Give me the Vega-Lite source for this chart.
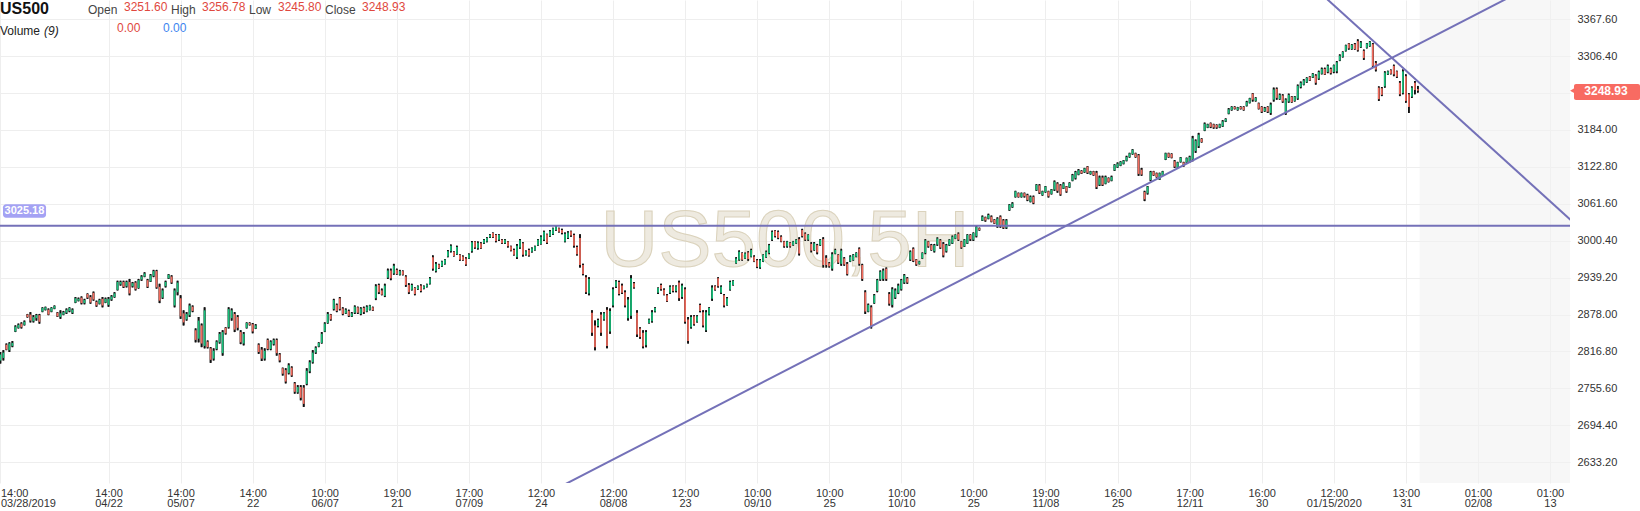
{
"$schema": "https://vega.github.io/schema/vega-lite/v6.json",
"width": 1570,
"height": 483,
"autosize": {"type": "none"},
"padding": {"left": 0, "top": 0, "right": 70, "bottom": 28},
"background": "#ffffff",
"config": {"view": {"stroke": null}, "font": "Liberation Sans"},
"datasets": {
"candles": [
{"i":0,"o":2802,"h":2816,"l":2797,"c":2812},{"i":1,"o":2806,"h":2819,"l":2802,"c":2815},{"i":2,"o":2828,"h":2830,"l":2819,"c":2820},{"i":3,"o":2819,"h":2832,"l":2816,"c":2830},{"i":4,"o":2826,"h":2834,"l":2824,"c":2831},{"i":5,"o":2850,"h":2860,"l":2849,"c":2858},{"i":6,"o":2856,"h":2863,"l":2855,"c":2861},{"i":7,"o":2863,"h":2865,"l":2855,"c":2857},{"i":8,"o":2861,"h":2868,"l":2860,"c":2866},{"i":9,"o":2878,"h":2879,"l":2873,"c":2874},
{"i":10,"o":2878,"h":2882,"l":2865,"c":2868},{"i":11,"o":2867,"h":2877,"l":2865,"c":2874},{"i":12,"o":2872,"h":2879,"l":2868,"c":2877},{"i":13,"o":2877,"h":2879,"l":2863,"c":2866},{"i":14,"o":2883,"h":2890,"l":2882,"c":2889},{"i":15,"o":2886,"h":2891,"l":2885,"c":2890},{"i":16,"o":2886,"h":2888,"l":2877,"c":2878},{"i":17,"o":2883,"h":2890,"l":2882,"c":2889},{"i":18,"o":2888,"h":2893,"l":2887,"c":2892},{"i":19,"o":2881,"h":2882,"l":2874,"c":2875},
{"i":20,"o":2874,"h":2885,"l":2871,"c":2880},{"i":21,"o":2878,"h":2884,"l":2877,"c":2882},{"i":22,"o":2881,"h":2888,"l":2879,"c":2886},{"i":23,"o":2884,"h":2890,"l":2882,"c":2889},{"i":24,"o":2881,"h":2888,"l":2879,"c":2886},{"i":25,"o":2898,"h":2907,"l":2897,"c":2905},{"i":26,"o":2901,"h":2906,"l":2900,"c":2904},{"i":27,"o":2906,"h":2908,"l":2895,"c":2897},{"i":28,"o":2897,"h":2904,"l":2895,"c":2902},{"i":29,"o":2912,"h":2913,"l":2904,"c":2906},
{"i":30,"o":2907,"h":2910,"l":2896,"c":2898},{"i":31,"o":2914,"h":2916,"l":2901,"c":2903},{"i":32,"o":2899,"h":2901,"l":2891,"c":2893},{"i":33,"o":2896,"h":2904,"l":2895,"c":2902},{"i":34,"o":2904,"h":2907,"l":2890,"c":2893},{"i":35,"o":2898,"h":2906,"l":2897,"c":2904},{"i":36,"o":2894,"h":2907,"l":2891,"c":2904},{"i":37,"o":2903,"h":2910,"l":2901,"c":2908},{"i":38,"o":2907,"h":2915,"l":2906,"c":2913},{"i":39,"o":2919,"h":2934,"l":2918,"c":2932},
{"i":40,"o":2928,"h":2934,"l":2926,"c":2932},{"i":41,"o":2932,"h":2934,"l":2922,"c":2924},{"i":42,"o":2925,"h":2934,"l":2923,"c":2932},{"i":43,"o":2932,"h":2937,"l":2910,"c":2913},{"i":44,"o":2925,"h":2932,"l":2923,"c":2930},{"i":45,"o":2931,"h":2933,"l":2918,"c":2920},{"i":46,"o":2922,"h":2937,"l":2921,"c":2935},{"i":47,"o":2936,"h":2943,"l":2934,"c":2941},{"i":48,"o":2941,"h":2948,"l":2940,"c":2946},{"i":49,"o":2935,"h":2937,"l":2922,"c":2924},
{"i":50,"o":2933,"h":2945,"l":2932,"c":2943},{"i":51,"o":2942,"h":2952,"l":2940,"c":2950},{"i":52,"o":2950,"h":2952,"l":2921,"c":2923},{"i":53,"o":2924,"h":2929,"l":2897,"c":2901},{"i":54,"o":2906,"h":2921,"l":2904,"c":2918},{"i":55,"o":2925,"h":2934,"l":2923,"c":2932},{"i":56,"o":2938,"h":2945,"l":2937,"c":2944},{"i":57,"o":2941,"h":2943,"l":2929,"c":2931},{"i":58,"o":2893,"h":2921,"l":2890,"c":2918},{"i":59,"o":2915,"h":2934,"l":2910,"c":2931},
{"i":60,"o":2905,"h":2910,"l":2871,"c":2875},{"i":61,"o":2880,"h":2885,"l":2860,"c":2865},{"i":62,"o":2870,"h":2882,"l":2868,"c":2879},{"i":63,"o":2877,"h":2896,"l":2874,"c":2893},{"i":64,"o":2891,"h":2893,"l":2882,"c":2884},{"i":65,"o":2852,"h":2855,"l":2832,"c":2836},{"i":66,"o":2838,"h":2874,"l":2832,"c":2868},{"i":67,"o":2860,"h":2863,"l":2824,"c":2830},{"i":68,"o":2826,"h":2890,"l":2822,"c":2885},{"i":69,"o":2833,"h":2835,"l":2822,"c":2824},
{"i":70,"o":2822,"h":2824,"l":2798,"c":2803},{"i":71,"o":2805,"h":2822,"l":2802,"c":2818},{"i":72,"o":2821,"h":2835,"l":2819,"c":2833},{"i":73,"o":2832,"h":2849,"l":2830,"c":2846},{"i":74,"o":2814,"h":2852,"l":2810,"c":2849},{"i":75,"o":2856,"h":2857,"l":2845,"c":2847},{"i":76,"o":2857,"h":2890,"l":2855,"c":2887},{"i":77,"o":2872,"h":2888,"l":2868,"c":2885},{"i":78,"o":2879,"h":2882,"l":2849,"c":2853},{"i":79,"o":2874,"h":2877,"l":2852,"c":2856},
{"i":80,"o":2849,"h":2852,"l":2829,"c":2832},{"i":81,"o":2830,"h":2849,"l":2827,"c":2846},{"i":82,"o":2856,"h":2865,"l":2855,"c":2864},{"i":83,"o":2864,"h":2865,"l":2860,"c":2861},{"i":84,"o":2862,"h":2864,"l":2847,"c":2850},{"i":85,"o":2855,"h":2862,"l":2854,"c":2860},{"i":86,"o":2828,"h":2830,"l":2813,"c":2816},{"i":87,"o":2820,"h":2824,"l":2801,"c":2805},{"i":88,"o":2805,"h":2822,"l":2802,"c":2818},{"i":89,"o":2836,"h":2838,"l":2819,"c":2821},
{"i":90,"o":2821,"h":2835,"l":2819,"c":2833},{"i":91,"o":2829,"h":2838,"l":2827,"c":2836},{"i":92,"o":2836,"h":2838,"l":2810,"c":2814},{"i":93,"o":2812,"h":2814,"l":2799,"c":2802},{"i":94,"o":2789,"h":2790,"l":2777,"c":2780},{"i":95,"o":2786,"h":2789,"l":2764,"c":2767},{"i":96,"o":2781,"h":2797,"l":2779,"c":2794},{"i":97,"o":2790,"h":2792,"l":2775,"c":2777},{"i":98,"o":2764,"h":2766,"l":2747,"c":2750},{"i":99,"o":2749,"h":2761,"l":2747,"c":2758},
{"i":100,"o":2758,"h":2761,"l":2736,"c":2740},{"i":101,"o":2757,"h":2761,"l":2725,"c":2730},{"i":102,"o":2763,"h":2789,"l":2761,"c":2785},{"i":103,"o":2784,"h":2802,"l":2781,"c":2799},{"i":104,"o":2799,"h":2819,"l":2797,"c":2815},{"i":105,"o":2815,"h":2825,"l":2813,"c":2823},{"i":106,"o":2825,"h":2832,"l":2824,"c":2831},{"i":107,"o":2831,"h":2849,"l":2830,"c":2846},{"i":108,"o":2850,"h":2865,"l":2849,"c":2863},{"i":109,"o":2864,"h":2882,"l":2863,"c":2879},
{"i":110,"o":2878,"h":2879,"l":2868,"c":2870},{"i":111,"o":2887,"h":2904,"l":2885,"c":2902},{"i":112,"o":2894,"h":2896,"l":2882,"c":2884},{"i":113,"o":2905,"h":2907,"l":2885,"c":2887},{"i":114,"o":2888,"h":2890,"l":2877,"c":2879},{"i":115,"o":2880,"h":2888,"l":2879,"c":2886},{"i":116,"o":2884,"h":2886,"l":2874,"c":2876},{"i":117,"o":2875,"h":2882,"l":2874,"c":2880},{"i":118,"o":2881,"h":2893,"l":2879,"c":2891},{"i":119,"o":2890,"h":2891,"l":2879,"c":2881},
{"i":120,"o":2879,"h":2890,"l":2877,"c":2888},{"i":121,"o":2889,"h":2891,"l":2879,"c":2882},{"i":122,"o":2883,"h":2893,"l":2882,"c":2891},{"i":123,"o":2886,"h":2894,"l":2885,"c":2893},{"i":124,"o":2890,"h":2891,"l":2884,"c":2885},{"i":125,"o":2905,"h":2928,"l":2902,"c":2925},{"i":126,"o":2927,"h":2929,"l":2912,"c":2915},{"i":127,"o":2918,"h":2921,"l":2910,"c":2911},{"i":128,"o":2909,"h":2929,"l":2907,"c":2926},{"i":129,"o":2939,"h":2954,"l":2937,"c":2951},
{"i":130,"o":2951,"h":2954,"l":2935,"c":2938},{"i":131,"o":2946,"h":2962,"l":2944,"c":2959},{"i":132,"o":2952,"h":2954,"l":2944,"c":2945},{"i":133,"o":2944,"h":2952,"l":2943,"c":2950},{"i":134,"o":2950,"h":2951,"l":2943,"c":2944},{"i":135,"o":2941,"h":2943,"l":2924,"c":2927},{"i":136,"o":2927,"h":2930,"l":2912,"c":2915},{"i":137,"o":2919,"h":2929,"l":2918,"c":2927},{"i":138,"o":2922,"h":2923,"l":2910,"c":2912},{"i":139,"o":2920,"h":2926,"l":2919,"c":2925},
{"i":140,"o":2926,"h":2928,"l":2915,"c":2917},{"i":141,"o":2921,"h":2926,"l":2920,"c":2925},{"i":142,"o":2924,"h":2929,"l":2923,"c":2928},{"i":143,"o":2929,"h":2940,"l":2928,"c":2938},{"i":144,"o":2973,"h":2976,"l":2951,"c":2954},{"i":145,"o":2950,"h":2965,"l":2948,"c":2962},{"i":146,"o":2961,"h":2962,"l":2954,"c":2955},{"i":147,"o":2958,"h":2967,"l":2957,"c":2966},{"i":148,"o":2962,"h":2970,"l":2961,"c":2969},{"i":149,"o":2974,"h":2985,"l":2973,"c":2983},
{"i":150,"o":2983,"h":2994,"l":2981,"c":2992},{"i":151,"o":2982,"h":2983,"l":2974,"c":2975},{"i":152,"o":2978,"h":2992,"l":2977,"c":2990},{"i":153,"o":2977,"h":2978,"l":2967,"c":2969},{"i":154,"o":2974,"h":2976,"l":2967,"c":2968},{"i":155,"o":2971,"h":2973,"l":2959,"c":2961},{"i":156,"o":2971,"h":2979,"l":2970,"c":2978},{"i":157,"o":2983,"h":3000,"l":2981,"c":2998},{"i":158,"o":2999,"h":3000,"l":2987,"c":2989},{"i":159,"o":2988,"h":2999,"l":2986,"c":2997},
{"i":160,"o":2996,"h":2998,"l":2987,"c":2988},{"i":161,"o":2996,"h":3003,"l":2995,"c":3002},{"i":162,"o":2999,"h":3006,"l":2998,"c":3005},{"i":163,"o":3006,"h":3011,"l":3005,"c":3010},{"i":164,"o":3013,"h":3014,"l":3005,"c":3006},{"i":165,"o":3010,"h":3011,"l":2998,"c":3000},{"i":166,"o":3002,"h":3011,"l":3000,"c":3010},{"i":167,"o":3002,"h":3003,"l":2995,"c":2996},{"i":168,"o":2996,"h":3003,"l":2995,"c":3002},{"i":169,"o":2999,"h":3000,"l":2989,"c":2991},
{"i":170,"o":2991,"h":2992,"l":2983,"c":2984},{"i":171,"o":2985,"h":2987,"l":2976,"c":2977},{"i":172,"o":2973,"h":2995,"l":2970,"c":2992},{"i":173,"o":2989,"h":3003,"l":2987,"c":3001},{"i":174,"o":2996,"h":2998,"l":2974,"c":2977},{"i":175,"o":2977,"h":2984,"l":2976,"c":2983},{"i":176,"o":2985,"h":2987,"l":2974,"c":2976},{"i":177,"o":2982,"h":2989,"l":2981,"c":2988},{"i":178,"o":2985,"h":2992,"l":2984,"c":2991},{"i":179,"o":2993,"h":3003,"l":2992,"c":3002},
{"i":180,"o":2995,"h":3009,"l":2994,"c":3007},{"i":181,"o":3002,"h":3017,"l":3000,"c":3015},{"i":182,"o":3011,"h":3012,"l":2995,"c":2997},{"i":183,"o":3008,"h":3018,"l":3007,"c":3016},{"i":184,"o":3011,"h":3022,"l":3010,"c":3021},{"i":185,"o":3018,"h":3025,"l":3017,"c":3024},{"i":186,"o":3021,"h":3022,"l":3014,"c":3015},{"i":187,"o":3018,"h":3020,"l":3011,"c":3013},{"i":188,"o":2999,"h":3014,"l":2998,"c":3012},{"i":189,"o":3005,"h":3016,"l":3003,"c":3014},
{"i":190,"o":3016,"h":3017,"l":3007,"c":3009},{"i":191,"o":3010,"h":3012,"l":2989,"c":2992},{"i":192,"o":2990,"h":2992,"l":2976,"c":2978},{"i":193,"o":3005,"h":3011,"l":2956,"c":2960},{"i":194,"o":2960,"h":2962,"l":2943,"c":2945},{"i":195,"o":2940,"h":2943,"l":2912,"c":2915},{"i":196,"o":2913,"h":2940,"l":2910,"c":2937},{"i":197,"o":2881,"h":2885,"l":2843,"c":2848},{"i":198,"o":2860,"h":2868,"l":2819,"c":2824},{"i":199,"o":2859,"h":2871,"l":2857,"c":2869},
{"i":200,"o":2878,"h":2882,"l":2843,"c":2848},{"i":201,"o":2870,"h":2882,"l":2868,"c":2880},{"i":202,"o":2886,"h":2890,"l":2822,"c":2826},{"i":203,"o":2850,"h":2888,"l":2846,"c":2884},{"i":204,"o":2893,"h":2923,"l":2890,"c":2920},{"i":205,"o":2924,"h":2935,"l":2922,"c":2933},{"i":206,"o":2932,"h":2934,"l":2910,"c":2912},{"i":207,"o":2926,"h":2929,"l":2912,"c":2914},{"i":208,"o":2915,"h":2918,"l":2890,"c":2893},{"i":209,"o":2872,"h":2907,"l":2868,"c":2903},
{"i":210,"o":2876,"h":2943,"l":2871,"c":2938},{"i":211,"o":2930,"h":2932,"l":2921,"c":2923},{"i":212,"o":2881,"h":2885,"l":2841,"c":2845},{"i":213,"o":2855,"h":2857,"l":2838,"c":2841},{"i":214,"o":2848,"h":2852,"l":2822,"c":2825},{"i":215,"o":2827,"h":2852,"l":2824,"c":2849},{"i":216,"o":2864,"h":2871,"l":2863,"c":2870},{"i":217,"o":2867,"h":2885,"l":2865,"c":2882},{"i":218,"o":2883,"h":2890,"l":2882,"c":2889},{"i":219,"o":2914,"h":2923,"l":2912,"c":2922},
{"i":220,"o":2927,"h":2929,"l":2918,"c":2920},{"i":221,"o":2919,"h":2921,"l":2910,"c":2911},{"i":222,"o":2910,"h":2912,"l":2899,"c":2900},{"i":223,"o":2914,"h":2926,"l":2912,"c":2924},{"i":224,"o":2925,"h":2926,"l":2915,"c":2917},{"i":225,"o":2917,"h":2926,"l":2915,"c":2925},{"i":226,"o":2931,"h":2934,"l":2901,"c":2905},{"i":227,"o":2907,"h":2929,"l":2904,"c":2926},{"i":228,"o":2920,"h":2923,"l":2863,"c":2866},{"i":229,"o":2870,"h":2874,"l":2830,"c":2834},
{"i":230,"o":2857,"h":2877,"l":2855,"c":2874},{"i":231,"o":2875,"h":2877,"l":2860,"c":2862},{"i":232,"o":2866,"h":2877,"l":2865,"c":2875},{"i":233,"o":2894,"h":2896,"l":2882,"c":2884},{"i":234,"o":2882,"h":2885,"l":2857,"c":2860},{"i":235,"o":2852,"h":2885,"l":2849,"c":2882},{"i":236,"o":2878,"h":2890,"l":2877,"c":2889},{"i":237,"o":2904,"h":2926,"l":2901,"c":2923},{"i":238,"o":2925,"h":2926,"l":2918,"c":2919},{"i":239,"o":2938,"h":2940,"l":2923,"c":2925},
{"i":240,"o":2914,"h":2926,"l":2912,"c":2924},{"i":241,"o":2910,"h":2912,"l":2890,"c":2893},{"i":242,"o":2894,"h":2907,"l":2893,"c":2905},{"i":243,"o":2919,"h":2934,"l":2918,"c":2932},{"i":244,"o":2927,"h":2935,"l":2926,"c":2934},{"i":245,"o":2963,"h":2973,"l":2962,"c":2971},{"i":246,"o":2969,"h":2984,"l":2967,"c":2982},{"i":247,"o":2980,"h":2981,"l":2967,"c":2969},{"i":248,"o":2971,"h":2981,"l":2970,"c":2979},{"i":249,"o":2981,"h":2983,"l":2967,"c":2970},
{"i":250,"o":2974,"h":2987,"l":2973,"c":2985},{"i":251,"o":2974,"h":2976,"l":2965,"c":2966},{"i":252,"o":2968,"h":2970,"l":2955,"c":2957},{"i":253,"o":2956,"h":2970,"l":2954,"c":2968},{"i":254,"o":2966,"h":2978,"l":2965,"c":2977},{"i":255,"o":2973,"h":2984,"l":2972,"c":2982},{"i":256,"o":2980,"h":2995,"l":2978,"c":2993},{"i":257,"o":3002,"h":3017,"l":3000,"c":3015},{"i":258,"o":3017,"h":3018,"l":3006,"c":3008},{"i":259,"o":3015,"h":3017,"l":3003,"c":3005},
{"i":260,"o":3007,"h":3009,"l":2998,"c":2999},{"i":261,"o":2999,"h":3000,"l":2989,"c":2991},{"i":262,"o":2991,"h":3000,"l":2989,"c":2999},{"i":263,"o":2997,"h":2998,"l":2989,"c":2991},{"i":264,"o":2993,"h":3000,"l":2992,"c":2999},{"i":265,"o":2996,"h":3003,"l":2995,"c":3002},{"i":266,"o":3003,"h":3006,"l":2976,"c":2979},{"i":267,"o":3018,"h":3020,"l":3006,"c":3008},{"i":268,"o":3012,"h":3014,"l":3000,"c":3002},{"i":269,"o":3002,"h":3011,"l":3000,"c":3010},
{"i":270,"o":2995,"h":2998,"l":2981,"c":2984},{"i":271,"o":2985,"h":2998,"l":2984,"c":2996},{"i":272,"o":2993,"h":2995,"l":2978,"c":2981},{"i":273,"o":2993,"h":3003,"l":2992,"c":3002},{"i":274,"o":3003,"h":3006,"l":2956,"c":2960},{"i":275,"o":2972,"h":2976,"l":2956,"c":2960},{"i":276,"o":2963,"h":2965,"l":2956,"c":2958},{"i":277,"o":2954,"h":2981,"l":2951,"c":2978},{"i":278,"o":2979,"h":2987,"l":2978,"c":2985},{"i":279,"o":2977,"h":2978,"l":2962,"c":2964},
{"i":280,"o":2962,"h":2987,"l":2959,"c":2984},{"i":281,"o":2971,"h":2973,"l":2959,"c":2961},{"i":282,"o":2962,"h":2965,"l":2943,"c":2945},{"i":283,"o":2966,"h":2976,"l":2965,"c":2974},{"i":284,"o":2968,"h":2978,"l":2967,"c":2977},{"i":285,"o":2974,"h":2981,"l":2973,"c":2980},{"i":286,"o":2987,"h":2989,"l":2959,"c":2962},{"i":287,"o":2960,"h":2962,"l":2934,"c":2937},{"i":288,"o":2915,"h":2918,"l":2879,"c":2883},{"i":289,"o":2883,"h":2896,"l":2882,"c":2894},
{"i":290,"o":2890,"h":2893,"l":2855,"c":2858},{"i":291,"o":2897,"h":2912,"l":2896,"c":2910},{"i":292,"o":2917,"h":2937,"l":2915,"c":2935},{"i":293,"o":2936,"h":2951,"l":2934,"c":2949},{"i":294,"o":2937,"h":2954,"l":2934,"c":2951},{"i":295,"o":2954,"h":2956,"l":2934,"c":2937},{"i":296,"o":2912,"h":2915,"l":2893,"c":2896},{"i":297,"o":2894,"h":2923,"l":2890,"c":2920},{"i":298,"o":2906,"h":2921,"l":2904,"c":2918},{"i":299,"o":2914,"h":2929,"l":2912,"c":2926},
{"i":300,"o":2920,"h":2937,"l":2918,"c":2935},{"i":301,"o":2931,"h":2945,"l":2929,"c":2943},{"i":302,"o":2938,"h":2940,"l":2929,"c":2931},{"i":303,"o":2969,"h":2984,"l":2967,"c":2982},{"i":304,"o":2987,"h":2989,"l":2965,"c":2967},{"i":305,"o":2969,"h":2970,"l":2959,"c":2961},{"i":306,"o":2962,"h":2967,"l":2961,"c":2966},{"i":307,"o":2971,"h":2981,"l":2970,"c":2980},{"i":308,"o":2980,"h":3003,"l":2978,"c":3001},{"i":309,"o":2999,"h":3000,"l":2989,"c":2991},
{"i":310,"o":2993,"h":2995,"l":2984,"c":2985},{"i":311,"o":2983,"h":2995,"l":2981,"c":2993},{"i":312,"o":2994,"h":3006,"l":2992,"c":3004},{"i":313,"o":3001,"h":3003,"l":2987,"c":2989},{"i":314,"o":2995,"h":2998,"l":2973,"c":2976},{"i":315,"o":2983,"h":2995,"l":2981,"c":2993},{"i":316,"o":2993,"h":3003,"l":2992,"c":3002},{"i":317,"o":2996,"h":3009,"l":2995,"c":3007},{"i":318,"o":3004,"h":3011,"l":3003,"c":3010},{"i":319,"o":3012,"h":3014,"l":3000,"c":3002},
{"i":320,"o":2999,"h":3000,"l":2987,"c":2989},{"i":321,"o":2991,"h":3003,"l":2990,"c":3002},{"i":322,"o":2996,"h":3011,"l":2995,"c":3010},{"i":323,"o":3010,"h":3011,"l":3000,"c":3003},{"i":324,"o":3002,"h":3014,"l":3000,"c":3013},{"i":325,"o":3008,"h":3025,"l":3006,"c":3023},{"i":326,"o":3021,"h":3022,"l":3017,"c":3018},{"i":327,"o":3034,"h":3042,"l":3033,"c":3040},{"i":328,"o":3039,"h":3040,"l":3032,"c":3034},{"i":329,"o":3037,"h":3045,"l":3036,"c":3043},
{"i":330,"o":3040,"h":3042,"l":3031,"c":3032},{"i":331,"o":3035,"h":3036,"l":3028,"c":3029},{"i":332,"o":3024,"h":3039,"l":3022,"c":3037},{"i":333,"o":3040,"h":3042,"l":3022,"c":3025},{"i":334,"o":3034,"h":3036,"l":3020,"c":3022},{"i":335,"o":3022,"h":3036,"l":3020,"c":3034},{"i":336,"o":3051,"h":3061,"l":3050,"c":3060},{"i":337,"o":3056,"h":3064,"l":3055,"c":3062},{"i":338,"o":3073,"h":3083,"l":3072,"c":3082},{"i":339,"o":3079,"h":3080,"l":3072,"c":3073},
{"i":340,"o":3073,"h":3080,"l":3072,"c":3079},{"i":341,"o":3079,"h":3080,"l":3072,"c":3074},{"i":342,"o":3076,"h":3078,"l":3066,"c":3068},{"i":343,"o":3065,"h":3075,"l":3064,"c":3073},{"i":344,"o":3073,"h":3075,"l":3061,"c":3063},{"i":345,"o":3084,"h":3094,"l":3083,"c":3093},{"i":346,"o":3092,"h":3094,"l":3078,"c":3080},{"i":347,"o":3076,"h":3083,"l":3075,"c":3082},{"i":348,"o":3081,"h":3091,"l":3080,"c":3090},{"i":349,"o":3082,"h":3083,"l":3072,"c":3074},
{"i":350,"o":3078,"h":3086,"l":3077,"c":3085},{"i":351,"o":3085,"h":3100,"l":3083,"c":3098},{"i":352,"o":3095,"h":3097,"l":3080,"c":3083},{"i":353,"o":3092,"h":3094,"l":3075,"c":3077},{"i":354,"o":3087,"h":3097,"l":3086,"c":3095},{"i":355,"o":3090,"h":3091,"l":3080,"c":3082},{"i":356,"o":3089,"h":3097,"l":3088,"c":3096},{"i":357,"o":3100,"h":3111,"l":3099,"c":3109},{"i":358,"o":3104,"h":3116,"l":3102,"c":3114},{"i":359,"o":3110,"h":3119,"l":3109,"c":3117},
{"i":360,"o":3116,"h":3117,"l":3111,"c":3112},{"i":361,"o":3114,"h":3121,"l":3113,"c":3120},{"i":362,"o":3123,"h":3124,"l":3111,"c":3113},{"i":363,"o":3111,"h":3116,"l":3110,"c":3115},{"i":364,"o":3115,"h":3116,"l":3108,"c":3109},{"i":365,"o":3113,"h":3116,"l":3086,"c":3089},{"i":366,"o":3093,"h":3108,"l":3091,"c":3105},{"i":367,"o":3105,"h":3108,"l":3091,"c":3093},{"i":368,"o":3095,"h":3108,"l":3094,"c":3106},{"i":369,"o":3104,"h":3105,"l":3097,"c":3098},
{"i":370,"o":3100,"h":3108,"l":3099,"c":3106},{"i":371,"o":3117,"h":3127,"l":3116,"c":3126},{"i":372,"o":3122,"h":3130,"l":3121,"c":3128},{"i":373,"o":3125,"h":3132,"l":3124,"c":3131},{"i":374,"o":3128,"h":3134,"l":3127,"c":3133},{"i":375,"o":3133,"h":3141,"l":3132,"c":3139},{"i":376,"o":3139,"h":3146,"l":3138,"c":3145},{"i":377,"o":3144,"h":3152,"l":3143,"c":3151},{"i":378,"o":3145,"h":3146,"l":3138,"c":3139},{"i":379,"o":3142,"h":3144,"l":3108,"c":3111},
{"i":380,"o":3118,"h":3121,"l":3108,"c":3110},{"i":381,"o":3081,"h":3083,"l":3066,"c":3069},{"i":382,"o":3079,"h":3091,"l":3077,"c":3090},{"i":383,"o":3101,"h":3116,"l":3099,"c":3114},{"i":384,"o":3115,"h":3116,"l":3108,"c":3109},{"i":385,"o":3112,"h":3113,"l":3105,"c":3106},{"i":386,"o":3102,"h":3113,"l":3101,"c":3112},{"i":387,"o":3109,"h":3116,"l":3108,"c":3115},{"i":388,"o":3135,"h":3146,"l":3134,"c":3145},{"i":389,"o":3145,"h":3146,"l":3138,"c":3139},
{"i":390,"o":3144,"h":3145,"l":3137,"c":3138},{"i":391,"o":3132,"h":3134,"l":3121,"c":3123},{"i":392,"o":3122,"h":3131,"l":3121,"c":3130},{"i":393,"o":3131,"h":3139,"l":3130,"c":3138},{"i":394,"o":3130,"h":3131,"l":3123,"c":3124},{"i":395,"o":3130,"h":3138,"l":3129,"c":3137},{"i":396,"o":3131,"h":3141,"l":3130,"c":3139},{"i":397,"o":3135,"h":3174,"l":3132,"c":3170},{"i":398,"o":3149,"h":3168,"l":3146,"c":3166},{"i":399,"o":3157,"h":3179,"l":3154,"c":3176},
{"i":400,"o":3169,"h":3170,"l":3163,"c":3164},{"i":401,"o":3183,"h":3196,"l":3182,"c":3194},{"i":402,"o":3188,"h":3194,"l":3187,"c":3193},{"i":403,"o":3195,"h":3196,"l":3187,"c":3189},{"i":404,"o":3193,"h":3194,"l":3186,"c":3188},{"i":405,"o":3192,"h":3193,"l":3186,"c":3188},{"i":406,"o":3188,"h":3194,"l":3187,"c":3193},{"i":407,"o":3190,"h":3200,"l":3189,"c":3198},{"i":408,"o":3198,"h":3203,"l":3197,"c":3202},{"i":409,"o":3211,"h":3220,"l":3210,"c":3218},
{"i":410,"o":3217,"h":3223,"l":3216,"c":3222},{"i":411,"o":3222,"h":3223,"l":3218,"c":3219},{"i":412,"o":3217,"h":3222,"l":3216,"c":3221},{"i":413,"o":3222,"h":3223,"l":3218,"c":3219},{"i":414,"o":3222,"h":3223,"l":3216,"c":3217},{"i":415,"o":3224,"h":3232,"l":3223,"c":3230},{"i":416,"o":3229,"h":3237,"l":3228,"c":3236},{"i":417,"o":3244,"h":3245,"l":3231,"c":3234},{"i":418,"o":3232,"h":3238,"l":3231,"c":3237},{"i":419,"o":3228,"h":3229,"l":3218,"c":3219},
{"i":420,"o":3222,"h":3223,"l":3212,"c":3214},{"i":421,"o":3215,"h":3222,"l":3214,"c":3220},{"i":422,"o":3222,"h":3223,"l":3212,"c":3214},{"i":423,"o":3212,"h":3229,"l":3209,"c":3226},{"i":424,"o":3234,"h":3254,"l":3231,"c":3251},{"i":425,"o":3252,"h":3254,"l":3234,"c":3237},{"i":426,"o":3235,"h":3244,"l":3234,"c":3242},{"i":427,"o":3241,"h":3243,"l":3229,"c":3231},{"i":428,"o":3212,"h":3236,"l":3209,"c":3234},{"i":429,"o":3231,"h":3244,"l":3229,"c":3242},
{"i":430,"o":3239,"h":3240,"l":3229,"c":3230},{"i":431,"o":3232,"h":3240,"l":3231,"c":3239},{"i":432,"o":3236,"h":3259,"l":3234,"c":3257},{"i":433,"o":3255,"h":3264,"l":3253,"c":3262},{"i":434,"o":3259,"h":3268,"l":3258,"c":3266},{"i":435,"o":3263,"h":3271,"l":3262,"c":3270},{"i":436,"o":3272,"h":3273,"l":3265,"c":3266},{"i":437,"o":3271,"h":3278,"l":3270,"c":3277},{"i":438,"o":3274,"h":3276,"l":3259,"c":3262},{"i":439,"o":3269,"h":3282,"l":3267,"c":3280},
{"i":440,"o":3277,"h":3287,"l":3276,"c":3285},{"i":441,"o":3285,"h":3287,"l":3275,"c":3276},{"i":442,"o":3280,"h":3292,"l":3278,"c":3290},{"i":443,"o":3285,"h":3287,"l":3276,"c":3278},{"i":444,"o":3280,"h":3292,"l":3278,"c":3291},{"i":445,"o":3281,"h":3298,"l":3278,"c":3296},{"i":446,"o":3299,"h":3309,"l":3298,"c":3307},{"i":447,"o":3305,"h":3314,"l":3304,"c":3313},{"i":448,"o":3315,"h":3325,"l":3314,"c":3324},{"i":449,"o":3327,"h":3328,"l":3317,"c":3319},
{"i":450,"o":3318,"h":3326,"l":3317,"c":3325},{"i":451,"o":3326,"h":3328,"l":3317,"c":3318},{"i":452,"o":3331,"h":3334,"l":3314,"c":3316},{"i":453,"o":3321,"h":3331,"l":3320,"c":3329},{"i":454,"o":3315,"h":3317,"l":3300,"c":3303},{"i":455,"o":3320,"h":3328,"l":3319,"c":3327},{"i":456,"o":3323,"h":3331,"l":3322,"c":3330},{"i":457,"o":3326,"h":3328,"l":3287,"c":3290},{"i":458,"o":3295,"h":3298,"l":3281,"c":3284},{"i":459,"o":3254,"h":3256,"l":3232,"c":3235},
{"i":460,"o":3253,"h":3255,"l":3240,"c":3242},{"i":461,"o":3256,"h":3281,"l":3254,"c":3279},{"i":462,"o":3276,"h":3282,"l":3275,"c":3281},{"i":463,"o":3283,"h":3284,"l":3276,"c":3277},{"i":464,"o":3290,"h":3292,"l":3273,"c":3276},{"i":465,"o":3281,"h":3282,"l":3270,"c":3272},{"i":466,"o":3262,"h":3265,"l":3240,"c":3243},{"i":467,"o":3245,"h":3284,"l":3243,"c":3281},{"i":468,"o":3273,"h":3276,"l":3229,"c":3232},{"i":469,"o":3243,"h":3245,"l":3212,"c":3222},
{"i":470,"o":3239,"h":3256,"l":3237,"c":3254},{"i":471,"o":3262,"h":3265,"l":3243,"c":3250},{"i":472,"o":3251.6,"h":3256.78,"l":3245.8,"c":3248.93}
],
"lines": [
{"name":"support","x1":-0.13,"p1":3025.18,"x2":522.67,"p2":3025.18},
{"name":"rising","x1":180,"p1":2576.2,"x2":510,"p2":3423.0},
{"name":"falling","x1":435,"p1":3431.2,"x2":525,"p2":3025.3}
],
"future": [{"a":472.6,"b":522.67}]
},
"layer": [
{
"data": {"name": "candles"},
"mark": {"type": "rule", "color": "#111111", "strokeWidth": 1.7},
"encoding": {
"x": {"field": "i", "type": "quantitative", "title": null, "scale": {"domain": [-0.13, 522.67], "nice": false, "zero": false},
"axis": {"values": [0,36,60,84,108,132,156,180,204,228,252,276,300,324,348,372,396,420,444,468,492,516],
"labelExpr": "split(['14:00|03/28/2019','14:00|04/22','14:00|05/07','14:00|22','10:00|06/07','19:00|21','17:00|07/09','12:00|24','12:00|08/08','12:00|23','10:00|09/10','10:00|25','10:00|10/10','10:00|25','19:00|11/08','16:00|25','17:00|12/11','16:00|30','12:00|01/15/2020','13:00|31','01:00|02/08','01:00|13'][round((datum.value - 12) / 24)] || '14:00|03/28/2019', '|')",
"grid": true, "gridColor": "#eeeeee", "gridWidth": 1, "ticks": false, "domain": false,
"labelFont": "Liberation Sans", "labelFontSize": 11, "labelColor": "#333333", "labelLineHeight": 10,
"labelPadding": 4, "labelBaseline": "top", "labelFlush": true, "labelOverlap": false, "labelBound": false, "title": null}},
"y": {"field": "l", "type": "quantitative", "title": null, "scale": {"domain": [2598.9, 3399.2], "nice": false, "zero": false},
"axis": {"orient": "right", "values": [2633.2,2694.4,2755.6,2816.8,2878.0,2939.2,3000.4,3061.6,3122.8,3184.0,3245.2,3306.4,3367.6],
"labelExpr": "abs(datum.value - 3245.2) < 0.01 ? '' : format(datum.value, '.2f')",
"grid": true, "gridColor": "#eeeeee", "gridWidth": 1, "ticks": false, "domain": false,
"labelFont": "Liberation Sans", "labelFontSize": 11, "labelColor": "#333333", "labelPadding": 7, "title": null}},
"y2": {"field": "h"}
}
},
{
"data": {"name": "future"},
"mark": {"type": "rect", "fill": "#f1f1f1", "opacity": 0.6},
"encoding": {
"x": {"field": "a", "type": "quantitative", "title": null, "scale": {"domain": [-0.13, 522.67], "nice": false, "zero": false}},
"x2": {"field": "b"}
}
},
{
"data": {"values": [{}]},
"mark": {"type": "text", "text": "US500,5H", "x": {"expr": "width/2"}, "y": {"expr": "height/2+24"}, "align": "center", "baseline": "alphabetic", "font": "Liberation Sans", "fontSize": 80, "fill": "#e3dccb", "fillOpacity": 0.6, "stroke": "#d7ceb6", "strokeWidth": 1, "strokeOpacity": 0.9}
},
{
"data": {"name": "candles"},
"mark": {"type": "rule", "color": "#111111", "strokeWidth": 1.7},
"encoding": {
"x": {"field": "i", "type": "quantitative", "title": null, "scale": {"domain": [-0.13, 522.67], "nice": false, "zero": false}},
"y": {"field": "l", "type": "quantitative", "title": null, "scale": {"domain": [2598.9, 3399.2], "nice": false, "zero": false}},
"y2": {"field": "h"}
}
},
{
"data": {"name": "candles"},
"mark": {"type": "rule", "strokeWidth": 1.7},
"encoding": {
"x": {"field": "i", "type": "quantitative", "title": null, "scale": {"domain": [-0.13, 522.67], "nice": false, "zero": false}},
"y": {"field": "o", "type": "quantitative", "title": null, "scale": {"domain": [2598.9, 3399.2], "nice": false, "zero": false}},
"y2": {"field": "c"},
"color": {"condition": {"test": "datum.c >= datum.o", "value": "#17c07b"}, "value": "#f36c5e"}
}
},
{
"data": {"name": "lines"},
"mark": {"type": "rule", "color": "#7471b8", "strokeWidth": 2, "clip": true},
"encoding": {
"x": {"field": "x1", "type": "quantitative", "title": null, "scale": {"domain": [-0.13, 522.67], "nice": false, "zero": false}},
"x2": {"field": "x2"},
"y": {"field": "p1", "type": "quantitative", "title": null, "scale": {"domain": [2598.9, 3399.2], "nice": false, "zero": false}},
"y2": {"field": "p2"}
}
},
{
"data": {"values": [{}]},
"mark": {"type": "rect", "color": "#a4a2f4", "cornerRadius": 3},
"encoding": {
"x": {"datum": 0.87, "type": "quantitative", "title": null, "scale": {"domain": [-0.13, 522.67], "nice": false, "zero": false}},
"x2": {"datum": 15.2},
"y": {"datum": 3060.7, "type": "quantitative", "title": null, "scale": {"domain": [2598.9, 3399.2], "nice": false, "zero": false}},
"y2": {"datum": 3038.5}
}
},
{
"data": {"values": [{}]},
"mark": {"type": "text", "text": "3025.18", "align": "center", "baseline": "middle", "font": "Liberation Sans", "fontSize": 11, "fontWeight": "bold", "color": "#ffffff"},
"encoding": {
"x": {"datum": 8.0, "type": "quantitative", "title": null, "scale": {"domain": [-0.13, 522.67], "nice": false, "zero": false}},
"y": {"datum": 3049.6, "type": "quantitative", "title": null, "scale": {"domain": [2598.9, 3399.2], "nice": false, "zero": false}}
}
},
{
"data": {"values": [{}]},
"mark": {"type": "rect", "color": "#f86b62", "cornerRadius": 2, "x": {"expr": "width+4"}, "x2": {"expr": "width+70"}},
"encoding": {
"y": {"datum": 3260.0, "type": "quantitative", "title": null, "scale": {"domain": [2598.9, 3399.2], "nice": false, "zero": false}},
"y2": {"datum": 3233.5}
}
},
{
"data": {"values": [{}]},
"mark": {"type": "point", "shape": "triangle-left", "filled": true, "opacity": 1, "size": 45, "color": "#f86b62", "x": {"expr": "width+3"}},
"encoding": {
"y": {"datum": 3248.93, "type": "quantitative", "title": null, "scale": {"domain": [2598.9, 3399.2], "nice": false, "zero": false}}
}
},
{
"data": {"values": [{}]},
"mark": {"type": "text", "text": "3248.93", "align": "center", "baseline": "middle", "font": "Liberation Sans", "fontSize": 12, "fontWeight": "bold", "color": "#ffffff", "x": {"expr": "width+36"}},
"encoding": {
"y": {"datum": 3248.93, "type": "quantitative", "title": null, "scale": {"domain": [2598.9, 3399.2], "nice": false, "zero": false}}
}
},
{"data": {"values": [{}]}, "mark": {"type": "text", "text": "US500", "x": 0, "y": 14, "align": "left", "baseline": "alphabetic", "font": "Liberation Sans", "fontSize": 16, "fontWeight": "bold", "color": "#111111"}},
{"data": {"values": [{}]}, "mark": {"type": "text", "text": "Open", "x": 88, "y": 14, "align": "left", "baseline": "alphabetic", "font": "Liberation Sans", "fontSize": 12, "color": "#444444"}},
{"data": {"values": [{}]}, "mark": {"type": "text", "text": "3251.60", "x": 124, "y": 11, "align": "left", "baseline": "alphabetic", "font": "Liberation Sans", "fontSize": 12, "color": "#e0483e"}},
{"data": {"values": [{}]}, "mark": {"type": "text", "text": "High", "x": 171, "y": 14, "align": "left", "baseline": "alphabetic", "font": "Liberation Sans", "fontSize": 12, "color": "#444444"}},
{"data": {"values": [{}]}, "mark": {"type": "text", "text": "3256.78", "x": 202, "y": 11, "align": "left", "baseline": "alphabetic", "font": "Liberation Sans", "fontSize": 12, "color": "#e0483e"}},
{"data": {"values": [{}]}, "mark": {"type": "text", "text": "Low", "x": 249, "y": 14, "align": "left", "baseline": "alphabetic", "font": "Liberation Sans", "fontSize": 12, "color": "#444444"}},
{"data": {"values": [{}]}, "mark": {"type": "text", "text": "3245.80", "x": 278, "y": 11, "align": "left", "baseline": "alphabetic", "font": "Liberation Sans", "fontSize": 12, "color": "#e0483e"}},
{"data": {"values": [{}]}, "mark": {"type": "text", "text": "Close", "x": 325, "y": 14, "align": "left", "baseline": "alphabetic", "font": "Liberation Sans", "fontSize": 12, "color": "#444444"}},
{"data": {"values": [{}]}, "mark": {"type": "text", "text": "3248.93", "x": 362, "y": 11, "align": "left", "baseline": "alphabetic", "font": "Liberation Sans", "fontSize": 12, "color": "#e0483e"}},
{"data": {"values": [{}]}, "mark": {"type": "text", "text": "Volume", "x": 0, "y": 34.5, "align": "left", "baseline": "alphabetic", "font": "Liberation Sans", "fontSize": 12, "color": "#222222"}},
{"data": {"values": [{}]}, "mark": {"type": "text", "text": "(9)", "x": 44, "y": 34.5, "align": "left", "baseline": "alphabetic", "font": "Liberation Sans", "fontSize": 12, "fontStyle": "italic", "color": "#222222"}},
{"data": {"values": [{}]}, "mark": {"type": "text", "text": "0.00", "x": 117, "y": 32, "align": "left", "baseline": "alphabetic", "font": "Liberation Sans", "fontSize": 12, "color": "#e0483e"}},
{"data": {"values": [{}]}, "mark": {"type": "text", "text": "0.00", "x": 163, "y": 32, "align": "left", "baseline": "alphabetic", "font": "Liberation Sans", "fontSize": 12, "color": "#3d85f0"}}
]
}
